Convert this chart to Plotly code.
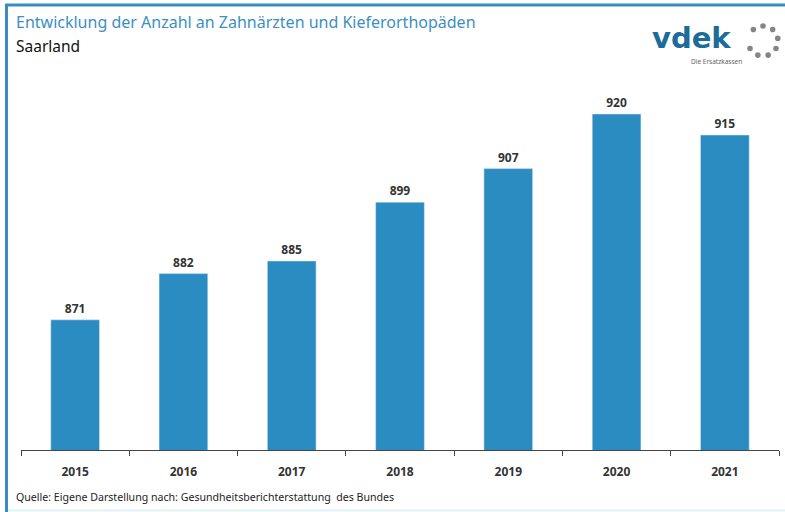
import math
import plotly.graph_objects as go

years = ["2015", "2016", "2017", "2018", "2019", "2020", "2021"]
counts = [871, 882, 885, 899, 907, 920, 915]

title_text = "Entwicklung der Anzahl an Zahnärzten und Kieferorthopäden"
subtitle_text = "Saarland"
source_text = "Quelle: Eigene Darstellung nach: Gesundheitsberichterstattung  des Bundes"

W, H = 785, 512
L, R, T, B = 21, 6, 72, 62
PW, PH = W - L - R, H - T - B

def px(x):
    return (x - L) / PW

def py(y):
    return (H - B - y) / PH

BAR = "#2a8cc0"
FONT = "Noto Sans"

fig = go.Figure(go.Bar(
    x=years, y=counts, marker_color=BAR, width=0.45,
    text=[str(c) for c in counts], textposition="outside",
    textfont=dict(family=FONT, size=12, color="#333333"),
    texttemplate="<b>%{text}</b>", cliponaxis=False,
))

shapes = [
    dict(type="line", xref="paper", yref="paper", x0=px(5), x1=px(785), y0=py(5), y1=py(5),
         line=dict(color="#3a8dc2", width=3)),
    dict(type="line", xref="paper", yref="paper", x0=px(6.5), x1=px(6.5), y0=py(4), y1=py(512),
         line=dict(color="#3a8dc2", width=3)),
    dict(type="line", xref="paper", yref="paper", x0=px(8), x1=px(785), y0=py(510.5), y1=py(510.5),
         line=dict(color="#e0f4f6", width=2)),
]
# logo ring of dots
cx, cy, rad = 763, 41, 15
for i in range(9):
    a = math.radians(90 - i * 40)
    if i == 7:
        continue
    x = cx + rad * math.cos(a)
    y = cy - rad * math.sin(a)
    shapes.append(dict(type="circle", xref="paper", yref="paper",
                       x0=px(x - 2.8), x1=px(x + 2.8), y0=py(y + 2.8), y1=py(y - 2.8),
                       fillcolor="#858585", line=dict(width=0)))

annotations = [
    dict(text=title_text, xref="paper", yref="paper", x=px(14), y=py(22), xanchor="left", yanchor="middle",
         showarrow=False, font=dict(family=FONT, size=16, color="#3b8fc3")),
    dict(text=subtitle_text, xref="paper", yref="paper", x=px(14), y=py(46), xanchor="left", yanchor="middle",
         showarrow=False, font=dict(family=FONT, size=15.5, color="#111111")),
    dict(text=source_text, xref="paper", yref="paper", x=px(14), y=py(497), xanchor="left", yanchor="middle",
         showarrow=False, font=dict(family=FONT, size=10.6, color="#222222")),
    dict(text="<b>vdek</b>", xref="paper", yref="paper", x=px(650), y=py(38), xanchor="left", yanchor="middle",
         showarrow=False, font=dict(family="DejaVu Sans", size=29, color="#1b6c98")),
    dict(text="Die Ersatzkassen", xref="paper", yref="paper", x=px(689), y=py(61), xanchor="left", yanchor="middle",
         showarrow=False, font=dict(family=FONT, size=6.5, color="#666666")),
]

fig.update_layout(
    width=W, height=H, margin=dict(l=L, r=R, t=T, b=B),
    paper_bgcolor="white", plot_bgcolor="white",
    showlegend=False, shapes=shapes, annotations=annotations,
    xaxis=dict(type="category", showline=True, linecolor="#444444", linewidth=1,
               ticks="outside", tickson="boundaries", ticklen=5, tickcolor="#444444",
               ticklabelstandoff=11,
               tickfont=dict(family=FONT, size=12, color="#333333"), showgrid=False),
    yaxis=dict(range=[840, 930], visible=False, showgrid=False, zeroline=False),
    bargap=0.55,
)
fig.update_xaxes(ticktext=["<b>%s</b>" % y for y in years], tickvals=years)
fig.write_html("out.html", config={"displayModeBar": False},
               post_script="document.body.style.margin='0';")
